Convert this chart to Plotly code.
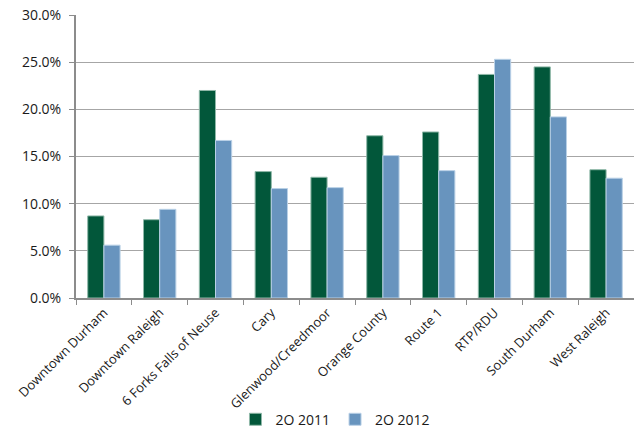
import plotly.graph_objects as go

submarkets = [
    "Downtown Durham",
    "Downtown Raleigh",
    "6 Forks Falls of Neuse",
    "Cary",
    "Glenwood/Creedmoor",
    "Orange County",
    "Route 1",
    "RTP/RDU",
    "South Durham",
    "West Raleigh",
]

vacancy_2011 = [8.7, 8.3, 22.0, 13.4, 12.8, 17.2, 17.6, 23.7, 24.5, 13.6]
vacancy_2012 = [5.6, 9.4, 16.7, 11.6, 11.7, 15.1, 13.5, 25.3, 19.2, 12.7]

y_ticks = [0, 5, 10, 15, 20, 25, 30]
y_tick_labels = ["0.0%", "5.0%", "10.0%", "15.0%", "20.0%", "25.0%", "30.0%"]

fig = go.Figure()

fig.add_trace(go.Bar(
    x=submarkets,
    y=vacancy_2011,
    name="2O 2011",
    marker=dict(color="#02573a", line=dict(color="#8fb8a8", width=1)),
))

fig.add_trace(go.Bar(
    x=submarkets,
    y=vacancy_2012,
    name="2O 2012",
    marker=dict(color="#6894be", line=dict(color="#b9d0e6", width=1)),
))

fig.update_layout(
    width=634,
    height=429,
    barmode="group",
    bargap=0.42,
    bargroupgap=0,
    font=dict(family="Open Sans", size=13, color="#1a1a1a"),
    margin=dict(l=76, r=0, t=15, b=131, autoexpand=False),
    paper_bgcolor="white",
    plot_bgcolor="white",
    showlegend=True,
    legend=dict(
        orientation="h",
        x=0.465,
        xanchor="center",
        y=-0.43,
        yanchor="middle",
        bgcolor="rgba(0,0,0,0)",
        font=dict(size=14),
        itemwidth=30,
        traceorder="normal",
    ),
)

fig.update_xaxes(
    automargin=False,
    tickangle=-45,
    ticks="outside",
    tickson="boundaries",
    ticklen=5,
    tickcolor="#8c8c8c",
    showline=True,
    linecolor="#8c8c8c",
    linewidth=2,
    showgrid=False,
    tickfont=dict(size=13),
)

fig.update_yaxes(
    automargin=False,
    range=[0, 30],
    tickvals=y_ticks,
    ticktext=y_tick_labels,
    ticks="outside",
    ticklen=5,
    tickcolor="#8c8c8c",
    ticklabelstandoff=5,
    showline=True,
    linecolor="#8c8c8c",
    linewidth=2,
    showgrid=True,
    gridcolor="#a6a6a6",
    gridwidth=1,
    zeroline=False,
    tickfont=dict(size=14),
)

# drop the default body margin so the figure sits at the page corner
fig.write_html(
    "out.html",
    config={"displayModeBar": False},
    post_script="document.body.style.margin = '0';",
)
